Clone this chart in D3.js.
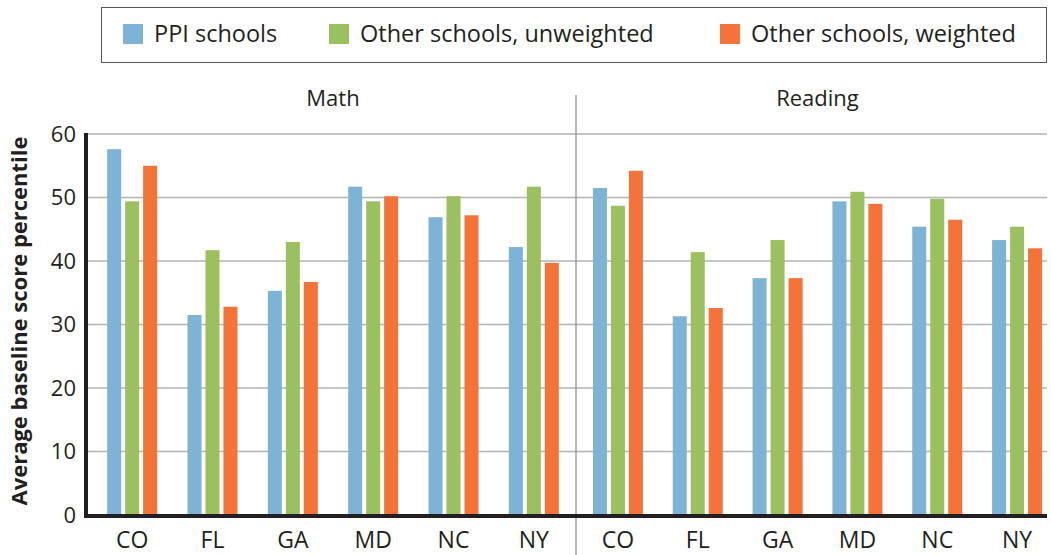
<!DOCTYPE html>
<html>
<head>
<meta charset="utf-8">
<script src="https://cdn.jsdelivr.net/npm/d3@7"></script>
<style>
  body { margin: 0; background: #fff; }
  text { font-family: "Open Sans", "DejaVu Sans", sans-serif; fill: #231f20; }
</style>
</head>
<body>
<svg width="1051" height="555"></svg>
<script>
const width = 1051;
const height = 555;

const states = ['CO', 'FL', 'GA', 'MD', 'NC', 'NY'];
const series = ['PPI schools', 'Other schools, unweighted', 'Other schools, weighted'];
const colors = ['#7db4d6', '#9bc060', '#f37338'];
const yTicks = [0, 10, 20, 30, 40, 50, 60];

const mathPPI        = [57.6, 31.5, 35.3, 51.7, 46.9, 42.2];
const mathUnweighted = [49.4, 41.7, 43.0, 49.4, 50.2, 51.7];
const mathWeighted   = [55.0, 32.8, 36.7, 50.2, 47.2, 39.7];

const readPPI        = [51.5, 31.3, 37.3, 49.4, 45.4, 43.3];
const readUnweighted = [48.7, 41.4, 43.3, 50.9, 49.8, 45.4];
const readWeighted   = [54.2, 32.6, 37.3, 49.0, 46.5, 42.0];

const panels = [
    {title: 'Math', values: [mathPPI, mathUnweighted, mathWeighted], range: [92, 574]},
    {title: 'Reading', values: [readPPI, readUnweighted, readWeighted], range: [578, 1057]}
];

const left = 86;
const right = 1047;
const divider = 576;

const svg = d3.select('svg');

const yScale = d3.scaleLinear()
    .domain([0, 60])
    .range([515, 134]);

// gridlines
svg.append('g')
    .selectAll('line')
    .data(yTicks)
    .enter()
    .append('line')
        .attr('x1', left)
        .attr('x2', right)
        .attr('y1', d => yScale(d))
        .attr('y2', d => yScale(d))
        .attr('stroke', '#b3b3b3')
        .attr('stroke-width', 1.6);

// divider between panels
svg.append('line')
    .attr('x1', divider)
    .attr('x2', divider)
    .attr('y1', 95)
    .attr('y2', 555)
    .attr('stroke', '#8a8a8a')
    .attr('stroke-width', 1.2);

const x1 = d3.scaleBand()
    .domain(series)
    .range([0, 50])
    .paddingInner(0.22);

panels.forEach(p => {
    const x0 = d3.scaleBand()
        .domain(states)
        .range(p.range);

    const groups = svg.append('g')
        .selectAll('.group')
        .data(states)
        .enter()
        .append('g')
            .classed('group', true)
            .attr('transform', d => `translate(${x0(d) + x0.bandwidth() / 2 - 25}, 0)`);

    groups.selectAll('rect')
        .data((d, i) => series.map((s, j) => ({s, j, v: p.values[j][i]})))
        .enter()
        .append('rect')
            .attr('x', d => x1(d.s))
            .attr('width', x1.bandwidth())
            .attr('y', d => yScale(d.v))
            .attr('height', d => yScale(0) - yScale(d.v))
            .attr('fill', d => colors[d.j]);

    svg.append('g')
        .selectAll('text')
        .data(states)
        .enter()
        .append('text')
            .attr('x', d => x0(d) + x0.bandwidth() / 2)
            .attr('y', 548)
            .style('text-anchor', 'middle')
            .style('font-size', '23px')
            .text(d => d);

    svg.append('text')
        .attr('x', (p.range[0] + p.range[1]) / 2)
        .attr('y', 106)
        .style('text-anchor', 'middle')
        .style('font-size', '22px')
        .text(p.title);
});

// axes lines
svg.append('line')
    .attr('x1', left)
    .attr('x2', left)
    .attr('y1', 133)
    .attr('y2', 518)
    .attr('stroke', '#231f20')
    .attr('stroke-width', 4);

svg.append('line')
    .attr('x1', left - 2)
    .attr('x2', right)
    .attr('y1', 516)
    .attr('y2', 516)
    .attr('stroke', '#231f20')
    .attr('stroke-width', 4);

// y tick labels
svg.append('g')
    .selectAll('text')
    .data(yTicks)
    .enter()
    .append('text')
        .attr('x', 76)
        .attr('y', d => yScale(d))
        .attr('dy', '0.36em')
        .style('text-anchor', 'end')
        .style('font-size', '22px')
        .text(d => d);

svg.append('text')
    .attr('transform', 'rotate(-90)')
    .attr('x', -321)
    .attr('y', 27)
    .style('text-anchor', 'middle')
    .style('font-size', '22px')
    .style('font-weight', 'bold')
    .text('Average baseline score percentile');

// legend
svg.append('rect')
    .attr('x', 101.5)
    .attr('y', 7.5)
    .attr('width', 945)
    .attr('height', 55)
    .attr('fill', 'none')
    .attr('stroke', '#555')
    .attr('stroke-width', 1);

const legendX = [123, 329, 720];
const legend = svg.append('g')
    .selectAll('g')
    .data(series)
    .enter()
    .append('g')
        .attr('transform', (d, i) => `translate(${legendX[i]}, 24)`);

legend.append('rect')
    .attr('width', 20)
    .attr('height', 20)
    .attr('fill', (d, i) => colors[i]);

legend.append('text')
    .attr('x', 31)
    .attr('y', 18)
    .style('font-size', '23.5px')
    .text(d => d);
</script>
</body>
</html>
